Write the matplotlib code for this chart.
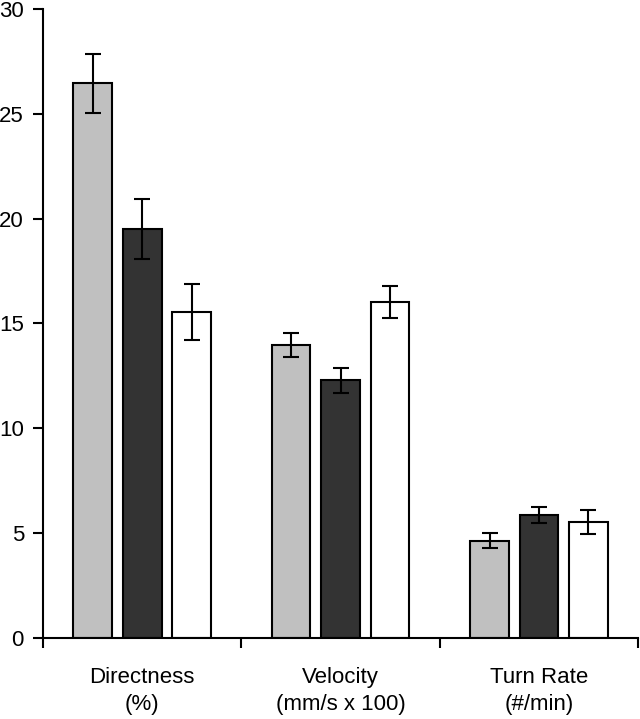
import matplotlib
matplotlib.use("Agg")
import matplotlib.pyplot as plt
import numpy as np

plt.rcParams['font.family'] = ['Liberation Sans', 'DejaVu Sans']

categories = ["Directness\n(%)", "Velocity\n(mm/s x 100)", "Turn Rate\n(#/min)"]
series_a = [26.45, 13.97, 4.63]
err_a = [1.4, 0.57, 0.36]
series_b = [19.5, 12.3, 5.87]
err_b = [1.43, 0.6, 0.38]
series_c = [15.55, 16.02, 5.53]
err_c = [1.33, 0.77, 0.57]
yticks = [0, 5, 10, 15, 20, 25, 30]

fig = plt.figure(figsize=(6.4, 7.19), dpi=100)
ax = fig.add_axes([0.0672, 0.1127, 0.9298, 0.8748])

centers = np.arange(len(categories)) + 0.5
w = 0.195
off = 0.249
colors = ["#c0c0c0", "#333333", "#ffffff"]
for vals, errs, o, c in [(series_a, err_a, -off, colors[0]),
                         (series_b, err_b, 0, colors[1]),
                         (series_c, err_c, off, colors[2])]:
    ax.bar(centers + o, vals, width=w, color=c, edgecolor="black", linewidth=1.5,
           yerr=errs, error_kw=dict(ecolor="black", elinewidth=1.5, capsize=5.8, capthick=1.5),
           zorder=2)

ax.set_xlim(0, 3)
ax.set_ylim(0, 30)
ax.set_yticks(yticks)
ax.set_xticks([0, 1, 2, 3])
ax.set_xticklabels([])
ax.set_xticks(centers, minor=True)
ax.set_xticklabels(categories, minor=True, fontsize=16, linespacing=1.35)
ax.tick_params(axis='x', which='minor', length=0, pad=21)
ax.tick_params(axis='x', which='major', length=7.2, width=1.5, direction='out')
ax.tick_params(axis='y', length=7.2, width=1.5, direction='out', labelsize=16, pad=6.5)
for s in ['top', 'right']:
    ax.spines[s].set_visible(False)
for s in ['left', 'bottom']:
    ax.spines[s].set_linewidth(1.5)

fig.savefig("out.png", dpi=100)
